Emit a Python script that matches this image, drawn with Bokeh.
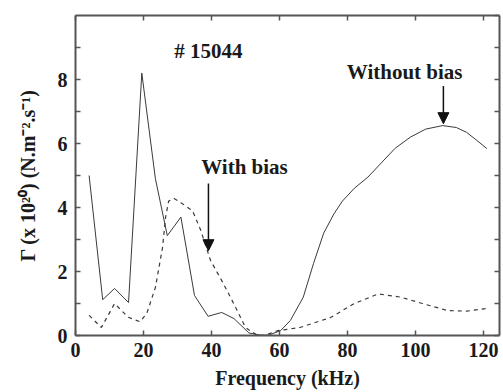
from bokeh.plotting import figure
from bokeh.models import (LinearAxis, FixedTicker, Range1d,
                          Arrow, NormalHead, ColumnDataSource)
from bokeh.core.properties import value
from bokeh.embed import file_html
from bokeh.resources import INLINE

# ---- data ----
freq_without = [4, 8, 11.5, 15.6, 19.5, 23.5, 27, 31, 35, 39, 43, 46.6, 51, 55, 57,
                60.3, 63.2, 67, 70, 73, 76, 78.5, 82, 86, 90, 94, 98.5, 103, 108,
                112, 115, 118, 121]
gamma_without = [5.0, 1.12, 1.47, 1.03, 8.2, 4.9, 3.12, 3.7, 1.25, 0.6, 0.72, 0.53,
                 0.08, 0.0, 0.02, 0.15, 0.47, 1.2, 2.25, 3.2, 3.8, 4.2, 4.6, 4.95,
                 5.4, 5.85, 6.2, 6.45, 6.56, 6.5, 6.35, 6.1, 5.84]

freq_with = [4, 7.6, 11.5, 15.5, 19, 21, 23.5, 25.6, 26.5, 27.4, 29, 31, 34.4, 36.8,
             39.7, 43.6, 47, 50, 53.5, 56, 59.4, 66, 75, 82, 89, 95.6, 102, 109.4,
             115, 120.6]
gamma_with = [0.63, 0.25, 1.0, 0.57, 0.43, 0.7, 1.5, 2.75, 3.7, 4.2, 4.28, 4.15, 3.9,
              3.3, 2.35, 1.6, 0.9, 0.25, 0.0, 0.02, 0.15, 0.25, 0.56, 1.0, 1.3, 1.2,
              1.0, 0.78, 0.76, 0.84]

x_ticks = [0, 20, 40, 60, 80, 100, 120]
y_ticks = [0, 2, 4, 6, 8]
shot_label = "# 15044"
label_without = "Without bias"
label_with = "With bias"

FONT = "Liberation Serif"
INK = "#1a1a1a"
AXC = "#555555"

p = figure(width=503, height=392, output_backend="svg", toolbar_location=None,
           x_range=Range1d(0, 124.7), y_range=Range1d(0, 10),
           min_border_left=75, min_border_right=4, min_border_top=15,
           min_border_bottom=57)
p.background_fill_color = "white"
p.border_fill_color = "white"
p.outline_line_color = None
p.xgrid.visible = False
p.ygrid.visible = False

def style_axis(ax):
    ax.axis_line_color = AXC
    ax.axis_line_width = 2
    ax.major_tick_in = 5
    ax.major_tick_out = 0
    ax.minor_tick_in = 5
    ax.minor_tick_out = 0
    ax.major_tick_line_color = AXC
    ax.minor_tick_line_color = AXC
    ax.major_tick_line_width = 1.5
    ax.minor_tick_line_width = 1.5
    ax.major_label_text_font = FONT
    ax.major_label_text_font_style = "bold"
    ax.major_label_text_font_size = "20px"
    ax.major_label_text_color = INK
    ax.axis_label_text_font = FONT
    ax.axis_label_text_font_style = "bold"
    ax.axis_label_text_font_size = "20px"
    ax.axis_label_text_color = INK

xa = p.xaxis[0]
style_axis(xa)
xa.ticker = FixedTicker(ticks=x_ticks)
xa.major_label_standoff = 7
xa.axis_label = "Frequency (kHz)"
xa.axis_label_standoff = 7

ya = p.yaxis[0]
style_axis(ya)
ya.ticker = FixedTicker(ticks=y_ticks, minor_ticks=[1, 3, 5, 7, 9])
ya.major_label_standoff = 8
ya.axis_label = "\u0393 (x 10\u00b2\u2070) (N.m\u207b\u00b2.s\u207b\u00b9)"
ya.axis_label_text_font_size = "20px"
ya.axis_label_standoff = 16

top = LinearAxis(ticker=FixedTicker(ticks=x_ticks))
style_axis(top)
top.major_label_overrides = {t: "" for t in x_ticks}
top.major_label_text_font_size = "0px"
p.add_layout(top, "above")

right = LinearAxis(ticker=FixedTicker(ticks=list(range(0, 11))))
style_axis(right)
right.major_label_overrides = {t: "" for t in range(0, 11)}
right.major_label_text_font_size = "0px"
p.add_layout(right, "right")

# curves
p.line(freq_without, gamma_without, line_color="#3a3a3a", line_width=1.0)
p.line(freq_with, gamma_with, line_color="#3a3a3a", line_width=1.2, line_dash="4 4")

# annotations
src = ColumnDataSource(dict(x=[39.1, 96.8, 49.7], y=[8.9, 8.25, 5.28],
                            t=[shot_label, label_without, label_with]))
p.text(x="x", y="y", text="t", source=src, text_font=value(FONT),
       text_font_style="bold", text_font_size="21px", text_color=INK,
       text_align="center", text_baseline="middle")

for xs, ys, ye in [(108.2, 7.8, 6.62), (39.1, 4.75, 2.65)]:
    p.add_layout(Arrow(end=NormalHead(size=11, fill_color="#111111", line_color="#111111"),
                       x_start=xs, y_start=ys, x_end=xs, y_end=ye,
                       line_color="#111111", line_width=1.5))

open("out.html", "w").write(file_html(p, INLINE))
